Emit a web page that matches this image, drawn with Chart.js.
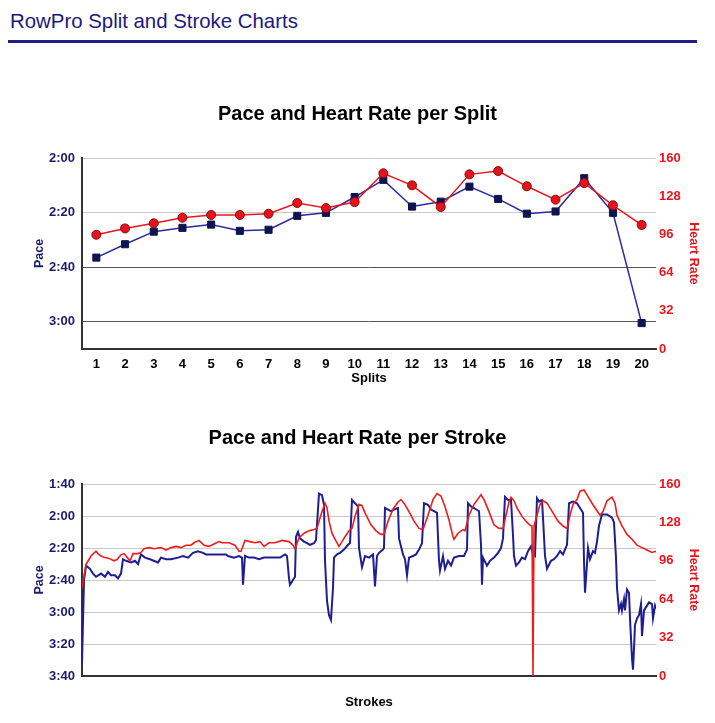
<!DOCTYPE html>
<html>
<head>
<meta charset="utf-8">
<title>RowPro Split and Stroke Charts</title>
<script src="https://cdn.jsdelivr.net/npm/chart.js@4/dist/chart.umd.min.js"></script>
<style>
  html, body { margin: 0; padding: 0; background: #fff; }
  body { width: 715px; height: 723px; position: relative; overflow: hidden; font-family: "Liberation Sans", Arial, sans-serif; }
  #header { position: absolute; left: 10px; top: 9px; font-size: 20.4px; line-height: 24px; color: #1a1a7c; white-space: nowrap; }
  #rule { position: absolute; left: 8px; top: 40px; width: 689px; height: 3px; background: #1c1f86; }
  canvas { position: absolute; left: 0; }
  #splitChart { top: 90px; }
  #strokeChart { top: 420px; }
</style>
</head>
<body>
<div id="header">RowPro Split and Stroke Charts</div>
<div id="rule"></div>
<canvas id="splitChart" width="715" height="300"></canvas>
<canvas id="strokeChart" width="715" height="300"></canvas>
<script>
/* split chart data — pace in seconds per 500m, heart rate in bpm */
const splitLabels = ["1","2","3","4","5","6","7","8","9","10","11","12","13","14","15","16","17","18","19","20"];
const splitPace = [156.5, 151.6, 147, 145.6, 144.4, 146.7, 146.3, 141.2, 140.1, 134.3, 128, 137.8, 136, 130.5, 135, 140.4, 139.6, 127.4, 140.1, 180.5];
const splitHeartRate = [95.7, 101, 105.3, 110, 112.3, 112.3, 113.3, 122.3, 118.1, 123.1, 147.2, 137.1, 119, 146.3, 149.1, 136.3, 125.1, 139, 120.4, 103.9];
const splitPaceTicks = [120, 140, 160, 180];
const hrTicks = [0, 32, 64, 96, 128, 160];

/* stroke chart data — stroke number / value pairs */
const strokePaceX = [0,2,4,8,11,14,19,23,26,29,33,36,39,41,44,49,53,56,59,63,68,76,79,84,89,96,101,106,111,116,121,124,129,134,139,144,146,152,157,160,161,163,167,172,177,182,187,193,198,203,205,207,208,211,213,214,216,218,222,225,228,232,234,237,240,242,243,245,247,249,251,252,255,258,262,266,268,270,273,276,277,280,283,287,291,293,295,297,301,302,303,306,309,312,316,317,321,323,325,327,331,334,337,340,342,346,349,352,355,357,358,361,363,366,369,372,377,382,385,386,389,392,397,399,400,401,405,408,412,416,419,421,423,426,429,431,432,434,437,440,443,446,449,451,453,455,457,460,461,463,465,469,472,475,478,481,483,485,487,491,495,498,501,502,503,505,506,508,511,513,515,517,520,525,530,532,534,535,537,539,540,542,543,545,547,548,550,551,552,553,555,557,559,560,562,565,567,570,571,573,574];
const strokePace = [212,160,151,153,156,158,156,158,155,157,157,159,156,147,148,149,148,150,144,146,147,149,146,147,147,146,145,146,143,142,143,144,144,144,144,144,145,146,145,146,163,145,146,146,147,146,146,146,146,144,145,159,163,160,158,133,130,134,136,137,138,137,135,106,107,113,148,173,182,185,165,146,144,143,141,138,137,110,112,114,140,152,145,146,144,164,145,143,141,140,115,116,117,116,115,134,144,147,157,146,145,144,141,137,112,113,116,117,118,148,154,145,153,148,151,146,145,145,141,112,114,115,117,138,163,146,151,148,146,143,140,134,108,110,110,132,145,151,149,146,147,142,139,144,145,109,111,110,121,145,153,148,147,145,142,144,141,138,112,111,112,115,118,148,168,150,140,147,142,143,136,126,119,119,121,124,146,165,179,175,179,172,179,166,168,184,209,216,203,188,184,182,175,195,179,176,174,175,184,176,178];
const strokeHrX = [0,4,9,14,16,19,22,27,32,35,39,42,45,48,51,56,59,62,67,72,79,84,89,94,99,104,109,112,117,122,127,132,137,140,147,153,157,159,163,168,173,178,182,187,193,200,207,211,213,217,222,227,232,235,237,240,243,245,247,250,253,257,260,263,267,270,273,277,280,283,289,294,299,302,306,311,316,319,322,327,332,337,341,346,351,355,359,363,367,371,372,376,381,383,387,392,399,402,407,412,417,421,424,427,429,432,435,440,445,449,450,451,452,455,458,461,465,471,476,481,485,488,491,495,498,502,505,510,514,518,521,525,530,533,535,540,545,550,555,560,565,570,574];
const strokeHr = [73,93,100,104,102,100,99,98,96,97,101,102,99,96,102,102,103,106,107,106,107,105,107,108,107,109,109,111,113,109,108,110,112,111,111,109,104,104,113,112,111,112,108,111,111,113,112,109,106,115,119,121,122,123,129,137,144,140,129,119,114,108,112,116,121,123,133,143,142,136,126,121,118,118,129,139,145,147,144,137,129,123,122,134,147,152,150,141,130,116,114,119,122,121,134,143,151,147,137,126,123,123,134,145,149,146,140,133,128,125,125,0,125,134,143,146,144,136,129,125,123,134,143,147,154,155,151,144,139,134,137,146,149,144,134,125,118,114,109,107,105,103,104];
const strokePaceTicks = [100, 120, 140, 160, 180, 200, 220];

const NAVY = "#1b1b6e";
const BLUE_LINE = "#1e1e92";
const RED = "#e8161d";
const FONT = "'Liberation Sans', Arial, sans-serif";

/* seconds → m:ss */
function fmtPace(v) {
  const m = Math.floor(v / 60);
  const s = Math.round(v - m * 60);
  return m + ":" + String(s).padStart(2, "0");
}

function fixedTicks(list) {
  return (scale) => { scale.ticks = list.map((v) => ({ value: v })); };
}

function titleOpts(text, top, bottom) {
  return {
    display: true, text, color: "#000",
    font: { family: FONT, size: 20, weight: "bold" },
    padding: { top, bottom },
  };
}

function paceAxis(min, max, ticks, gridColor) {
  return {
    position: "left", reverse: true, min, max,
    afterBuildTicks: fixedTicks(ticks),
    afterFit: (s) => { s.width = 82; },
    ticks: { callback: fmtPace, color: NAVY, padding: 7, font: { family: FONT, size: 13, weight: "bold" } },
    grid: { color: gridColor, lineWidth: 1, drawTicks: false },
    border: { display: true, color: "#333", width: 2 },
    title: { display: true, text: "Pace", color: NAVY, padding: { top: 32 }, font: { family: FONT, size: 12.5, weight: "bold" } },
  };
}

function hrAxis() {
  return {
    position: "right", min: 0, max: 160,
    afterBuildTicks: fixedTicks(hrTicks),
    afterFit: (s) => { s.width = 59; },
    ticks: { color: RED, padding: 3, font: { family: FONT, size: 13, weight: "bold" } },
    grid: { display: false, drawTicks: false },
    border: { display: false },
    title: { display: true, text: "Heart Rate", color: RED, padding: { top: 14 }, font: { family: FONT, size: 12.5, weight: "bold" } },
  };
}

Chart.defaults.devicePixelRatio = 1;
Chart.defaults.font.family = FONT;

/* ── per split ─────────────────────────────────────────────── */
new Chart(document.getElementById("splitChart"), {
  type: "line",
  data: {
    labels: splitLabels,
    datasets: [
      {
        label: "Heart Rate", data: splitHeartRate, yAxisID: "hr",
        borderColor: RED, borderWidth: 1.5,
        pointStyle: "circle", pointRadius: 4.5, pointBackgroundColor: "#e3141b", pointBorderColor: "#8c0a0a", pointBorderWidth: 1,
      },
      {
        label: "Pace", data: splitPace, yAxisID: "pace",
        borderColor: "#2a2aa0", borderWidth: 1.5,
        pointStyle: "rect", pointRadius: 5, pointBackgroundColor: "#0e1450", pointBorderColor: "#0e1450", pointBorderWidth: 1,
      },
    ],
  },
  options: {
    responsive: false, animation: false,
    layout: { padding: 0 },
    plugins: { legend: { display: false }, tooltip: { enabled: false }, title: titleOpts("Pace and Heart Rate per Split", 12, 32) },
    scales: {
      x: {
        type: "category", offset: true,
        afterFit: (s) => { s.height = 41; },
        ticks: { color: "#000", padding: 8, maxRotation: 0, autoSkip: false, font: { family: FONT, size: 13, weight: "bold" } },
        grid: { display: false, drawTicks: false },
        border: { display: true, color: "#333", width: 2 },
        title: { display: true, text: "Splits", color: "#000", padding: { bottom: 4 }, font: { family: FONT, size: 13, weight: "bold" } },
      },
      pace: paceAxis(120, 190, splitPaceTicks, (ctx) => (ctx.tick && ctx.tick.value >= 160 ? "#555" : "#c9c9c9")),
      hr: hrAxis(),
    },
  },
});

/* ── per stroke ────────────────────────────────────────────── */
new Chart(document.getElementById("strokeChart"), {
  type: "line",
  data: {
    datasets: [
      {
        label: "Heart Rate", yAxisID: "hr",
        data: strokeHrX.map((x, i) => ({ x, y: strokeHr[i] })),
        borderColor: "#ee1c1c", borderWidth: 1.6, pointRadius: 0,
      },
      {
        label: "Pace", yAxisID: "pace",
        data: strokePaceX.map((x, i) => ({ x, y: strokePace[i] })),
        borderColor: BLUE_LINE, borderWidth: 2, pointRadius: 0,
      },
    ],
  },
  options: {
    responsive: false, animation: false,
    layout: { padding: 0 },
    plugins: { legend: { display: false }, tooltip: { enabled: false }, title: titleOpts("Pace and Heart Rate per Stroke", 6, 34) },
    scales: {
      x: {
        type: "linear", min: 0, max: 574,
        afterFit: (s) => { s.height = 44; },
        ticks: { display: false },
        grid: { display: false, drawTicks: false },
        border: { display: true, color: "#333", width: 2 },
        title: { display: true, text: "Strokes", color: "#000", padding: { bottom: 10 }, font: { family: FONT, size: 13, weight: "bold" } },
      },
      pace: paceAxis(100, 220, strokePaceTicks, "#c9c9c9"),
      hr: hrAxis(),
    },
  },
});
</script>
</body>
</html>
